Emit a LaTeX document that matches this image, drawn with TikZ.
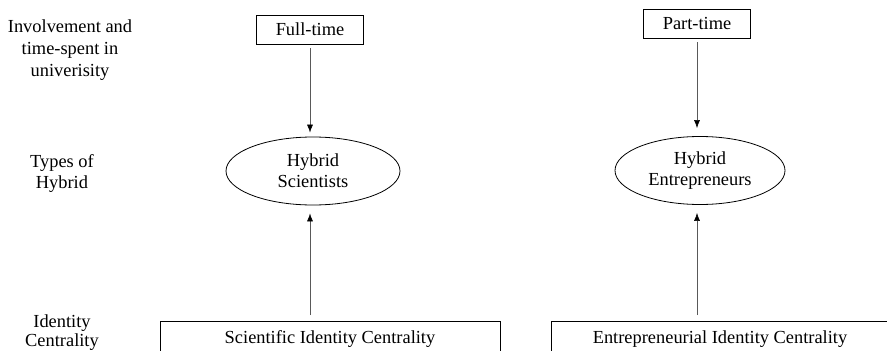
\documentclass[tikz,border=0pt]{standalone}
\usepackage{fontspec}
\setmainfont{Liberation Serif}
\usetikzlibrary{shapes.geometric,arrows.meta}
\begin{document}
\begin{tikzpicture}[x=1pt,y=-1pt,
  txt/.style={font=\fontsize{18.4}{21}\selectfont, align=center, inner sep=0pt},
  lab/.style={txt},
  topbox/.style={txt, draw, line width=0.8pt, minimum width=107pt, minimum height=29pt},
  hybrid/.style={txt, draw, ellipse, line width=0.8pt, minimum height=68pt},
  idbox/.style={txt, draw, line width=0.8pt, anchor=north, minimum height=36pt},
  arr/.style={draw=black!65, line width=0.6pt, -{Latex[length=8pt,width=6pt,black]}}]
  \useasboundingbox (0,0) rectangle (887,351);
  \clip (0,0) rectangle (887,351);

  % row captions (anchored on the baseline of their last line)
  \node[lab, anchor=base, font=\fontsize{18.4}{22}\selectfont] (capA) at (70,76)
    {Involvement and\\time-spent in\\univerisity};
  \node[lab, anchor=base] (capB) at (62,188) {Types of\\Hybrid};
  \node[lab, anchor=base, font=\fontsize{18.4}{19}\selectfont] (capC) at (62,346)
    {Identity\\Centrality};

  % involvement boxes
  \node[topbox] (full) at (310,29.5) {Full-time};
  \node[topbox] (part) at (697,23.5) {Part-time};

  % hybrid types
  \node[hybrid, minimum width=174pt] (hs) at (313,171) {Hybrid\\Scientists};
  \node[hybrid, minimum width=170pt] (he) at (700,170.5) {Hybrid\\Entrepreneurs};

  % identity centrality boxes (run past the lower edge)
  \node[idbox, minimum width=340pt] (sic) at (330,321) {Scientific Identity Centrality};
  \node[idbox, minimum width=338pt] (eic) at (720,321) {Entrepreneurial Identity Centrality};

  % connectors
  \draw[arr, shorten <=4pt, shorten >=4pt] (full.south) -- (full.south |- hs.north);
  \draw[arr, shorten <=4pt, shorten >=8pt] (part.south) -- (part.south |- he.north);
  \draw[arr, shorten <=6pt, shorten >=8pt] (sic.north -| full.south) -- (full.south |- hs.south);
  \draw[arr, shorten <=6pt, shorten >=8pt] (eic.north -| part.south) -- (part.south |- he.south);
\end{tikzpicture}
\end{document}
